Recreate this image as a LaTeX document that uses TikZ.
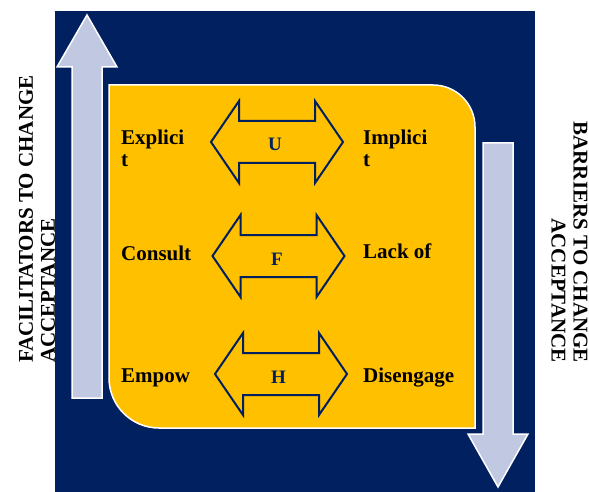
\documentclass[tikz,border=0pt]{standalone}
\usepackage{fontspec}
\setmainfont{Liberation Serif}
\usepackage{xcolor}
\definecolor{navybg}{RGB}{0,32,96}
\definecolor{panelgold}{RGB}{255,192,0}
\definecolor{lavender}{RGB}{192,200,226}

\begin{document}
\begin{tikzpicture}[
  x=1pt, y=-1pt,
  bigarrow/.style={fill=lavender,draw=white,line width=1.5pt},
  dblarrow/.style={fill=panelgold,draw=navybg,line width=2pt},
  item/.style={font=\bfseries\fontsize{21}{22}\selectfont,inner sep=0pt,align=left},
  tag/.style={font=\bfseries\fontsize{19}{20}\selectfont,text=navybg,inner sep=0pt},
  side/.style={font=\bfseries\fontsize{21}{22}\selectfont,inner sep=0pt}
]
  \useasboundingbox (0,0) rectangle (589,492);
  % side captions (the navy field covers part of the left one)
  \node[side,rotate=90,anchor=west,align=left] (facil) at (37,363) {FACILITATORS TO CHANGE\\ACCEPTANCE};
  \node[side,rotate=-90,anchor=east,align=right] (barr) at (569.5,363) {BARRIERS TO CHANGE\\ACCEPTANCE};
  \fill[navybg] (55,11) rectangle (535,492);
  % gold panel
  \draw[fill=panelgold,draw=white,line width=1.5pt] (109,85) -- (433,85)
    .. controls (456.2,85) and (475,103.8) .. (475,127) -- (475,428) -- (159,428)
    .. controls (131.4,428) and (109,405.6) .. (109,378) -- cycle;
  % up and down arrows
  \draw[bigarrow] (87,15) -- (117,67) -- (102,67) -- (102,398) -- (72,398) -- (72,67) -- (57,67) -- cycle;
  \draw[bigarrow] (483,143) -- (513,143) -- (513,434) -- (528,434) -- (498,487) -- (468,434) -- (483,434) -- cycle;
  % double arrows
  \draw[dblarrow,shift={(277,142)}] (-66,0) -- (-38,-41) -- (-38,-21) -- (38,-21) -- (38,-41) -- (66,0) -- (38,41) -- (38,21) -- (-38,21) -- (-38,41) -- cycle;
  \draw[dblarrow,shift={(278.5,256)}] (-66,0) -- (-38,-41) -- (-38,-21) -- (38,-21) -- (38,-41) -- (66,0) -- (38,41) -- (38,21) -- (-38,21) -- (-38,41) -- cycle;
  \draw[dblarrow,shift={(281,374)}] (-66,0) -- (-38,-41) -- (-38,-21) -- (38,-21) -- (38,-41) -- (66,0) -- (38,41) -- (38,21) -- (-38,21) -- (-38,41) -- cycle;
  \node[tag] (u) at (275,144) {U};
  \node[tag] (f) at (277,259) {F};
  \node[tag] (h) at (278.5,377) {H};
  % left and right words
  \node[item,anchor=base west] (expl) at (121,167) {Explici\\t};
  \node[item,anchor=base west] (cons) at (121,260) {Consult};
  \node[item,anchor=base west] (empw) at (121,382) {Empow};
  \node[item,anchor=base west] (impl) at (363,167) {Implici\\t};
  \node[item,anchor=base west] (lack) at (363,258) {Lack of};
  \node[item,anchor=base west] (dise) at (363,382) {Disengage};
\end{tikzpicture}
\end{document}
